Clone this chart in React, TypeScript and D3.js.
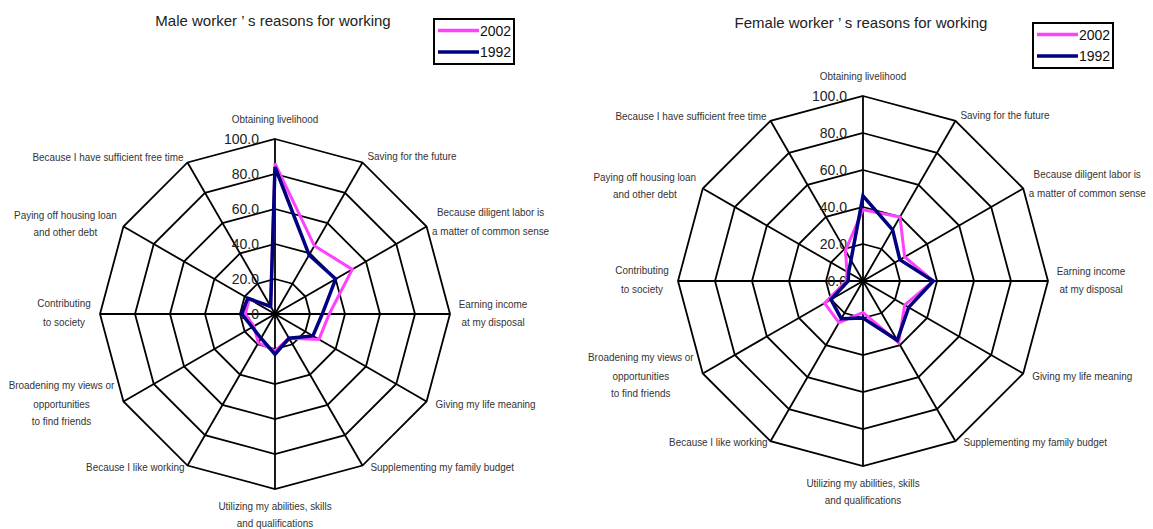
import React, { useEffect, useRef } from 'react';
import * as d3 from 'd3';

// reasons, clockwise from the top
const categories = [
    "Obtaining livelihood",
    "Saving for the future",
    "Because diligent labor is\na matter of common sense",
    "Earning income\nat my disposal",
    "Giving my life meaning",
    "Supplementing my family budget",
    "Utilizing my abilities, skills\nand qualifications",
    "Because I like working",
    "Broadening my views or\nopportunities\nto find friends",
    "Contributing\nto society",
    "Paying off housing loan\nand other debt",
    "Because I have sufficient free time",
];

const years = ["2002", "1992"];
const tickValues = [0, 20, 40, 60, 80, 100];

const male2002 = [86, 45, 51, 31, 29, 16, 21, 19, 14, 17, 17, 5];
const male1992 = [84, 39, 40, 27, 25, 16, 23, 16, 15, 19, 18, 5];
const female2002 = [38.5, 40, 26, 38, 26, 38.5, 17, 26, 24, 9, 10, 19];
const female1992 = [46, 32, 23, 38, 28.5, 37, 20, 23.5, 20, 8, 9, 13];

const colors: Record<string, string> = { "2002": "#ff40ff", "1992": "#000080" };

// where each category label sits relative to its outer vertex
const labelLayout = [
    { anchor: "middle", dx: 0, dy: [-20] },
    { anchor: "start", dx: 5, dy: [-6] },
    { anchor: "middle", dx: 64, dy: [-15, 4] },
    { anchor: "middle", dx: 43, dy: [-10, 8] },
    { anchor: "start", dx: 9, dy: [2] },
    { anchor: "start", dx: 8, dy: [1] },
    { anchor: "middle", dx: 0, dy: [17, 34] },
    { anchor: "end", dx: -3, dy: [1] },
    { anchor: "middle", dx: -62, dy: [-17, 2.5, 20] },
    { anchor: "middle", dx: -36, dy: [-11, 8] },
    { anchor: "middle", dx: -58, dy: [-12, 6] },
    { anchor: "end", dx: -4, dy: [-5] },
];

interface RadarOpts {
    title: string;
    titleY: number;
    cx: number;
    cy: number;
    radius: number;
    series: Record<string, number[]>;
    legendX: number;
    legendY: number;
}

const font = "'Liberation Sans', Arial, sans-serif";

function drawRadar(svg: d3.Selection<SVGSVGElement, unknown, null, undefined>, o: RadarOpts) {
    const n = categories.length;
    const angle = d3.scaleLinear().domain([0, n]).range([0, 2 * Math.PI]);
    const r = d3.scaleLinear().domain([0, 100]).range([0, o.radius]);

    const g = svg.append("g").attr("transform", `translate(${o.cx},${o.cy})`);

    const ring = d3.lineRadial<number>()
        .angle((_, i) => angle(i))
        .radius((d) => r(d))
        .curve(d3.curveLinearClosed);

    // grid polygons
    g.selectAll("path.grid")
        .data(tickValues.slice(1))
        .enter()
        .append("path")
        .attr("class", "grid")
        .attr("d", (v) => ring(categories.map(() => v)))
        .attr("fill", "none")
        .attr("stroke", "#000")
        .attr("stroke-width", 1.8);

    // spokes
    g.selectAll("line.spoke")
        .data(categories)
        .enter()
        .append("line")
        .attr("class", "spoke")
        .attr("x1", 0)
        .attr("y1", 0)
        .attr("x2", (_, i) => d3.pointRadial(angle(i), r(100))[0])
        .attr("y2", (_, i) => d3.pointRadial(angle(i), r(100))[1])
        .attr("stroke", "#000")
        .attr("stroke-width", 1.8);

    // value labels along the top spoke
    g.selectAll("text.tick")
        .data(tickValues)
        .enter()
        .append("text")
        .attr("class", "tick")
        .attr("x", -16)
        .attr("y", (v) => -r(v) + 5)
        .attr("text-anchor", "end")
        .attr("font-family", font)
        .attr("font-size", 14)
        .attr("fill", "#222")
        .text((v) => v.toFixed(1));

    // category labels
    categories.forEach((c, i) => {
        const [vx, vy] = d3.pointRadial(angle(i), r(100));
        const lay = labelLayout[i];
        const lg = g.append("g")
            .attr("transform", `translate(${vx + lay.dx},${vy}) scale(0.9,1)`);
        c.split("\n").forEach((line, j) => {
            lg.append("text")
                .attr("x", 0)
                .attr("y", lay.dy[j] + 4)
                .attr("text-anchor", lay.anchor)
                .attr("font-family", font)
                .attr("font-size", 11)
                .attr("fill", "#333")
                .text(line);
        });
    });

    // data lines
    years.forEach((yr) => {
        g.append("path")
            .attr("d", ring(o.series[yr]))
            .attr("fill", "none")
            .attr("stroke", colors[yr])
            .attr("stroke-width", yr === "1992" ? 3.5 : 3)
            .attr("stroke-linejoin", "miter");
    });

    // title
    svg.append("text")
        .attr("x", o.cx - 2)
        .attr("y", o.titleY)
        .attr("text-anchor", "middle")
        .attr("font-family", font)
        .attr("font-size", 15)
        .attr("fill", "#222")
        .text(o.title);

    // legend
    const lgd = svg.append("g").attr("transform", `translate(${o.legendX},${o.legendY})`);
    lgd.append("rect")
        .attr("width", 80)
        .attr("height", 45)
        .attr("fill", "#fff")
        .attr("stroke", "#000")
        .attr("stroke-width", 2);
    years.forEach((yr, i) => {
        const y = 11.5 + i * 21.5;
        lgd.append("line")
            .attr("x1", 4)
            .attr("x2", 45)
            .attr("y1", y)
            .attr("y2", y)
            .attr("stroke", colors[yr])
            .attr("stroke-width", 3.5);
        lgd.append("text")
            .attr("x", 46)
            .attr("y", y + 5)
            .attr("font-family", font)
            .attr("font-size", 14)
            .attr("fill", "#111")
            .text(yr);
    });
}

const App: React.FC = () => {
    const svgRef = useRef<SVGSVGElement | null>(null);

    useEffect(() => {
        if (!svgRef.current) return;
        const svg = d3.select(svgRef.current);
        svg.selectAll("*").remove();

        drawRadar(svg, {
            title: "Male worker ’ s reasons for working",
            titleY: 26,
            cx: 275,
            cy: 314,
            radius: 175,
            series: { "2002": male2002, "1992": male1992 },
            legendX: 434,
            legendY: 19,
        });
        drawRadar(svg, {
            title: "Female worker ’ s reasons for working",
            titleY: 28,
            cx: 863,
            cy: 281,
            radius: 185,
            series: { "2002": female2002, "1992": female1992 },
            legendX: 1033,
            legendY: 23,
        });
    }, []);

    return (
        <svg
            ref={svgRef}
            width={1153}
            height={529}
            style={{ position: 'absolute', left: 0, top: 0, background: '#fff' }}
        ></svg>
    );
};

export default App;
